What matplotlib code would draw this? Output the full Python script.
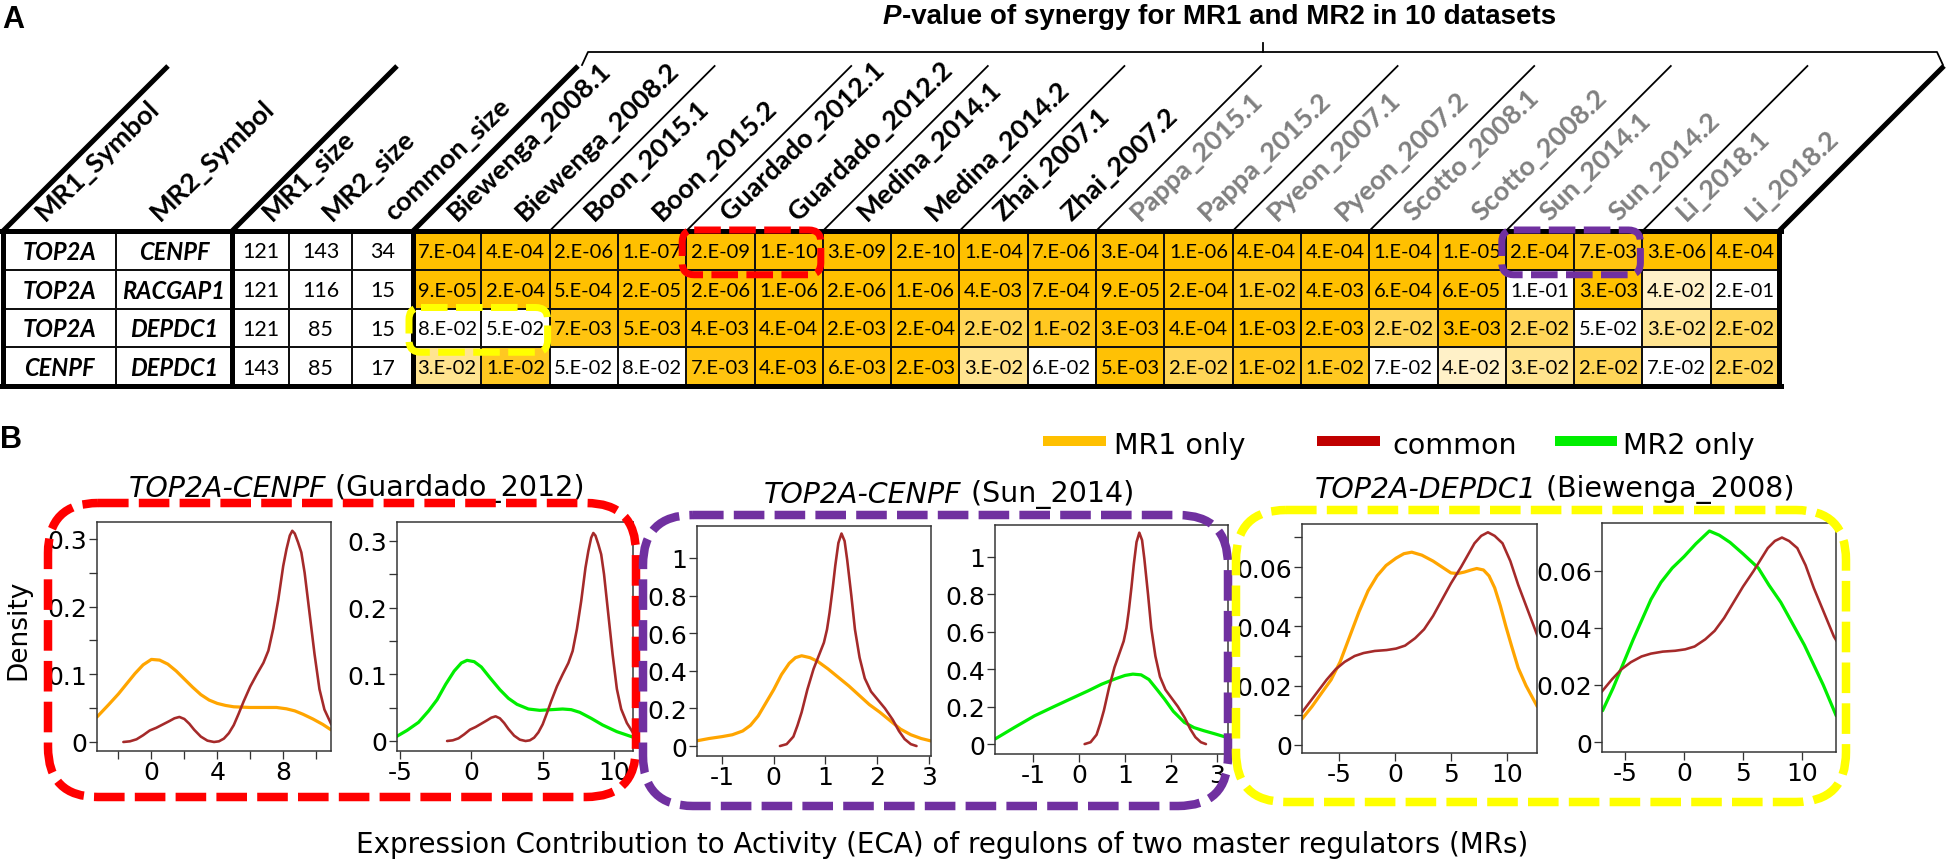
import matplotlib
matplotlib.use("Agg")
import matplotlib.pyplot as plt
from matplotlib.patches import Rectangle, FancyBboxPatch
from matplotlib.colors import LinearSegmentedColormap, Normalize

W, H = 1946, 862

# ---------------- panel A data ----------------
datasets = ["Biewenga_2008.1", "Biewenga_2008.2", "Boon_2015.1", "Boon_2015.2",
            "Guardado_2012.1", "Guardado_2012.2", "Medina_2014.1", "Medina_2014.2",
            "Zhai_2007.1", "Zhai_2007.2", "Pappa_2015.1", "Pappa_2015.2",
            "Pyeon_2007.1", "Pyeon_2007.2", "Scotto_2008.1", "Scotto_2008.2",
            "Sun_2014.1", "Sun_2014.2", "Li_2018.1", "Li_2018.2"]
info_headers = ["MR1_Symbol", "MR2_Symbol", "MR1_size", "MR2_size", "common_size"]
mr1_symbol = ["TOP2A", "TOP2A", "TOP2A", "CENPF"]
mr2_symbol = ["CENPF", "RACGAP1", "DEPDC1", "DEPDC1"]
mr1_size = [121, 121, 121, 143]
mr2_size = [143, 116, 85, 85]
common_size = [34, 15, 15, 17]
pvals = [
    ["7.E-04", "4.E-04", "2.E-06", "1.E-07", "2.E-09", "1.E-10", "3.E-09", "2.E-10", "1.E-04", "7.E-06",
     "3.E-04", "1.E-06", "4.E-04", "4.E-04", "1.E-04", "1.E-05", "2.E-04", "7.E-03", "3.E-06", "4.E-04"],
    ["9.E-05", "2.E-04", "5.E-04", "2.E-05", "2.E-06", "1.E-06", "2.E-06", "1.E-06", "4.E-03", "7.E-04",
     "9.E-05", "2.E-04", "1.E-02", "4.E-03", "6.E-04", "6.E-05", "1.E-01", "3.E-03", "4.E-02", "2.E-01"],
    ["8.E-02", "5.E-02", "7.E-03", "5.E-03", "4.E-03", "4.E-04", "2.E-03", "2.E-04", "2.E-02", "1.E-02",
     "3.E-03", "4.E-04", "1.E-03", "2.E-03", "2.E-02", "3.E-03", "2.E-02", "5.E-02", "3.E-02", "2.E-02"],
    ["3.E-02", "1.E-02", "5.E-02", "8.E-02", "7.E-03", "4.E-03", "6.E-03", "2.E-03", "3.E-02", "6.E-02",
     "5.E-03", "2.E-02", "1.E-02", "1.E-02", "7.E-02", "4.E-02", "3.E-02", "2.E-02", "7.E-02", "2.E-02"],
]
title_a = "-value of synergy for MR1 and MR2 in 10 datasets"

# ---------------- panel B data (density curves) ----------------
legend_labels = ["MR1 only", "common", "MR2 only"]

guard_mr1_x = [-3.3, -2.6, -2.0, -1.5, -1.0, -0.5, 0.0, 0.5, 1.0, 1.5, 2.0, 2.5, 3.0, 3.5, 4.0, 4.5,
               5.0, 6.0, 7.0, 7.6, 8.2, 8.7, 9.2, 9.8, 10.4, 10.9]
guard_mr1_y = [0.037, 0.055, 0.071, 0.086, 0.101, 0.114, 0.122, 0.121, 0.115, 0.105, 0.093, 0.081,
               0.070, 0.062, 0.057, 0.054, 0.052, 0.051, 0.051, 0.051, 0.049, 0.046, 0.041, 0.034, 0.026, 0.018]
guard_common_x = [-1.7, -1.3, -0.9, -0.5, -0.1, 0.3, 0.7, 1.1, 1.4, 1.7, 2.0, 2.3, 2.6, 3.0, 3.4, 3.8,
                  4.1, 4.4, 4.7, 5.0, 5.3, 5.6, 6.0, 6.4, 6.8, 7.1, 7.4, 7.7, 8.0, 8.2, 8.4, 8.55, 8.7,
                  8.9, 9.1, 9.3, 9.5, 9.7, 9.9, 10.2, 10.5, 10.9, 11.4]
guard_common_y = [0.0, 0.001, 0.004, 0.010, 0.017, 0.021, 0.026, 0.031, 0.035, 0.037, 0.034, 0.027,
                  0.018, 0.008, 0.002, 0.0, 0.001, 0.005, 0.013, 0.025, 0.042, 0.060, 0.082, 0.100,
                  0.117, 0.135, 0.168, 0.210, 0.260, 0.285, 0.305, 0.312, 0.308, 0.295, 0.280, 0.250,
                  0.210, 0.170, 0.130, 0.078, 0.048, 0.027, 0.010]
guard_mr2_x = [-5.3, -4.5, -3.7, -3.0, -2.4, -1.8, -1.2, -0.7, -0.3, 0.2, 0.7, 1.3, 2.0, 2.6, 3.2,
               4.0, 4.8, 5.6, 6.4, 7.0, 7.6, 8.4, 9.2, 10.2, 11.3]
guard_mr2_y = [0.006, 0.016, 0.028, 0.045, 0.062, 0.085, 0.105, 0.117, 0.121, 0.119, 0.111, 0.095,
               0.077, 0.064, 0.055, 0.048, 0.046, 0.047, 0.048, 0.047, 0.043, 0.034, 0.024, 0.014, 0.006]

sun_mr1_x = [-1.5, -1.25, -1.0, -0.8, -0.6, -0.45, -0.3, -0.15, 0.0, 0.15, 0.3, 0.42, 0.54, 0.7,
             0.85, 1.05, 1.25, 1.45, 1.65, 1.85, 2.05, 2.25, 2.45, 2.65, 2.85, 3.04]
sun_mr1_y = [0.027, 0.04, 0.05, 0.06, 0.08, 0.11, 0.16, 0.23, 0.30, 0.38, 0.44, 0.47, 0.48, 0.47,
             0.45, 0.41, 0.365, 0.32, 0.27, 0.22, 0.18, 0.135, 0.09, 0.06, 0.04, 0.027]
sun_common_x = [0.12, 0.25, 0.38, 0.46, 0.54, 0.65, 0.77, 0.87, 0.97, 1.03, 1.08, 1.14, 1.19, 1.25,
                1.31, 1.37, 1.42, 1.5, 1.57, 1.66, 1.76, 1.88, 2.0, 2.15, 2.3, 2.42, 2.53, 2.65, 2.76]
sun_common_y = [0.0, 0.01, 0.05, 0.11, 0.18, 0.30, 0.41, 0.48, 0.55, 0.62, 0.71, 0.84, 0.96, 1.08,
                1.13, 1.09, 0.99, 0.80, 0.62, 0.47, 0.36, 0.29, 0.25, 0.20, 0.14, 0.08, 0.037, 0.01, 0.0]
sun_mr2_x = [-1.83, -1.4, -0.97, -0.55, -0.11, 0.2, 0.49, 0.8, 1.0, 1.17, 1.35, 1.52, 1.7, 1.86,
             2.05, 2.29, 2.5, 2.72, 2.95, 3.21]
sun_mr2_y = [0.027, 0.09, 0.151, 0.2, 0.25, 0.285, 0.32, 0.35, 0.367, 0.374, 0.37, 0.345, 0.29,
             0.24, 0.175, 0.116, 0.088, 0.071, 0.055, 0.036]

biew_mr1_x = [-8.3, -7.4, -6.5, -5.7, -4.9, -4.0, -3.2, -2.4, -1.6, -0.8, 0.1, 0.8, 1.5, 2.4, 3.4,
              4.2, 5.0, 5.6, 6.2, 6.8, 7.3, 7.9, 8.4, 8.9, 9.4, 9.9, 10.4, 11.0, 11.7, 12.7]
biew_mr1_y = [0.0088, 0.013, 0.0178, 0.022, 0.028, 0.037, 0.045, 0.052, 0.057, 0.0605, 0.063, 0.0645,
              0.065, 0.064, 0.062, 0.060, 0.058, 0.0578, 0.0583, 0.059, 0.0595, 0.059, 0.057, 0.053,
              0.047, 0.040, 0.0335, 0.026, 0.020, 0.013]
biew_common_x = [-8.3, -7.2, -6.1, -5.3, -4.5, -3.6, -2.8, -1.8, -0.75, 0.1, 0.9, 1.8, 2.6, 3.4, 4.2,
                 5.0, 5.9, 6.5, 7.1, 7.7, 8.3, 8.9, 9.6, 10.3, 11.0, 11.8, 12.7, 13.0]
biew_common_y = [0.011, 0.0165, 0.022, 0.0255, 0.028, 0.030, 0.031, 0.0317, 0.032, 0.0325, 0.0335,
                 0.036, 0.039, 0.0435, 0.049, 0.0545, 0.060, 0.064, 0.068, 0.0705, 0.0717, 0.0705,
                 0.068, 0.062, 0.054, 0.046, 0.037, 0.035]
biew_mr2_x = [-6.9, -6.0, -5.1, -4.3, -3.55, -2.8, -1.95, -1.0, 0.0, 1.0, 2.15, 3.0, 3.9, 5.0, 6.3,
              7.2, 8.2, 9.2, 10.2, 11.0, 11.8, 12.9]
biew_mr2_y = [0.011, 0.019, 0.028, 0.036, 0.043, 0.050, 0.056, 0.061, 0.065, 0.0695, 0.074, 0.0725,
              0.070, 0.066, 0.061, 0.055, 0.049, 0.0415, 0.034, 0.027, 0.020, 0.0092]

pair_genes = ["TOP2A-CENPF", "TOP2A-CENPF", "TOP2A-DEPDC1"]
pair_studies = [" (Guardado_2012)", " (Sun_2014)", " (Biewenga_2008)"]

xticks_guard1 = [-2, 0, 2, 4, 6, 8, 10]
xlabels_guard1 = ["", "0", "", "4", "", "8", ""]
yticks_guard = [0, 0.05, 0.1, 0.15, 0.2, 0.25, 0.3]
ylabels_guard = ["0", "", "0.1", "", "0.2", "", "0.3"]
xticks_5 = [-5, 0, 5, 10]
xticks_sun = [-1, 0, 1, 2, 3]
yticks_sun = [0, 0.2, 0.4, 0.6, 0.8, 1]
ylabels_sun = ["0", "0.2", "0.4", "0.6", "0.8", "1"]
yticks_biew1 = [0, 0.01, 0.02, 0.03, 0.04, 0.05, 0.06, 0.07]
ylabels_biew1 = ["0", "", "0.02", "", "0.04", "", "0.06", ""]
yticks_biew2 = [0, 0.02, 0.04, 0.06]
ylabels_biew2 = ["0", "0.02", "0.04", "0.06"]

C_MR1, C_COMMON, C_MR2 = "#FFA500", "#A52A2A", "#00EE00"
LEG_COLORS = ["#FFC000", "#C00000", "#00EE00"]


def pt(pixels):
    return pixels * 0.72


fig = plt.figure(figsize=(W / 100, H / 100), dpi=100)
ax = fig.add_axes([0, 0, 1, 1])
ax.set_xlim(0, W)
ax.set_ylim(H, 0)
ax.axis("off")

TFONT = "Lato"

# ---------------- table ----------------
info_edges = [3, 116, 232, 289, 352, 413]
cw = (1779 - 413) / len(datasets)
ds_edges = [413 + i * cw for i in range(len(datasets) + 1)]
edges = info_edges + ds_edges[1:]
y_top, rh = 232, (387 - 232) / 4
n_rows = len(mr1_symbol)

cmap = LinearSegmentedColormap.from_list("pv", ["#FFC000", "#FFFFFF"])
norm = Normalize(0.004, 0.05, clip=True)

for r in range(n_rows):
    yc = y_top + rh * (r + 0.5)
    row_txt = [mr1_symbol[r], mr2_symbol[r], str(mr1_size[r]), str(mr2_size[r]), str(common_size[r])]
    for c, s in enumerate(row_txt):
        xc = (edges[c] + edges[c + 1]) / 2
        if c < 2:
            ax.text(xc, yc + 1, s, ha="center", va="center", fontsize=17, family=TFONT,
                    weight="bold", style="italic")
        else:
            ax.text(xc, yc + 1, s, ha="center", va="center", fontsize=15.5, family=TFONT)
    for j, s in enumerate(pvals[r]):
        v = float(s.replace(".E", "E"))
        ax.add_patch(Rectangle((ds_edges[j], y_top + rh * r), cw, rh,
                               facecolor=cmap(norm(v)), edgecolor="none", zorder=1))
        ax.text((ds_edges[j] + ds_edges[j + 1]) / 2, yc + 1, s, ha="center", va="center",
                fontsize=14.5, family=TFONT, zorder=3)

# grid lines
for x in edges:
    ax.plot([x, x], [y_top, y_top + 4 * rh], color="#111111", lw=pt(2), zorder=2)
for r in range(1, n_rows):
    ax.plot([3, 1779], [y_top + r * rh] * 2, color="#111111", lw=pt(2), zorder=2)
for x in [3, 232, 413, 1779]:
    ax.plot([x, x], [y_top, y_top + 4 * rh], color="black", lw=pt(5), zorder=4)
for y in [y_top, y_top + 4 * rh]:
    ax.plot([1, 1781], [y, y], color="black", lw=pt(5), zorder=4)

# slanted header
dx, y_head = 165, 67
for x in [3, 232, 413, 1779]:
    ax.plot([x, x + dx], [y_top, y_head], color="black", lw=pt(5), solid_capstyle="butt")
for k in range(2, len(datasets), 2):
    x = ds_edges[k]
    ax.plot([x, x + dx], [y_top, y_head], color="black", lw=pt(1.8))

for c, lab in enumerate(info_headers):
    w = info_edges[c + 1] - info_edges[c]
    x0 = info_edges[c] + w / 2 + (12 if w < 80 else -14)
    ax.text(x0, 222, lab, rotation=44, rotation_mode="anchor", ha="left", va="baseline",
            fontsize=19.5, family=TFONT, weight="bold")
for j, lab in enumerate(datasets):
    x0 = ds_edges[j] + cw / 2 + 10
    ax.text(x0, 222, lab, rotation=44, rotation_mode="anchor", ha="left", va="baseline",
            fontsize=19.5, family=TFONT, weight="bold", color="black" if j < 10 else "#808080")

# bracket + title
bx0, bx1 = 413 + dx + 6, 1779 + dx - 2
bxm = (bx0 + bx1) / 2
ax.plot([bx0 - 2, bx0 + 4, bx1 - 5, bx1 + 1], [66, 53, 53, 66], color="black", lw=pt(1.8))
ax.plot([bxm, bxm], [53, 44], color="black", lw=pt(1.8))
tp = ax.text(883, 24, "P", ha="left", va="baseline", fontsize=20, family="Liberation Sans",
             weight="bold", style="italic")
ax.annotate(title_a, xy=(1, 0), xycoords=tp, ha="left", va="bottom", fontsize=20,
            family="Liberation Sans", weight="bold")

ax.text(2, 28, "A", fontsize=22, family="Liberation Sans", weight="bold", va="baseline")
ax.text(0, 448, "B", fontsize=22, family="Liberation Sans", weight="bold", va="baseline")


def dashed_box(a, l, t, r, b, color, lw_px, rnd, dash=(3.6, 1.2)):
    a.add_patch(FancyBboxPatch((l, t), r - l, b - t, boxstyle=f"round,pad=0,rounding_size={rnd}",
                               fill=False, edgecolor=color, lw=pt(lw_px),
                               linestyle=(0, dash), zorder=20))


# highlight boxes in table
for (row, c0, color) in [(0, 4, "#FF0000"), (0, 16, "#7030A0"), (2, 0, "#FFFF00")]:
    dashed_box(ax, ds_edges[c0] - 4, y_top + row * rh - 1, ds_edges[c0 + 2] - 2,
               y_top + (row + 1) * rh + 5, color, 7, 12, dash=(3.8, 1.2))

# ---------------- panel B plots ----------------
BF = "DejaVu Sans"
plots = [
    dict(box=(97, 523, 331, 752), xlim=(-3.3, 10.9), ylim=(-0.0133, 0.325),
         curves=[(guard_mr1_x, guard_mr1_y, C_MR1, 3.2), (guard_common_x, guard_common_y, C_COMMON, 2.6)],
         xt=xticks_guard1, xl=xlabels_guard1, yt=yticks_guard, yl=ylabels_guard),
    dict(box=(397, 523, 633, 752), xlim=(-5.21, 11.33), ylim=(-0.015, 0.3285),
         curves=[(guard_mr2_x, guard_mr2_y, C_MR2, 3.2), (guard_common_x, guard_common_y, C_COMMON, 2.6)],
         xt=xticks_5, xl=[str(v) for v in xticks_5], yt=yticks_guard, yl=ylabels_guard),
    dict(box=(697, 527, 931, 757), xlim=(-1.483, 3.04), ylim=(-0.053, 1.17),
         curves=[(sun_mr1_x, sun_mr1_y, C_MR1, 3.2), (sun_common_x, sun_common_y, C_COMMON, 2.6)],
         xt=xticks_sun, xl=[str(v) for v in xticks_sun], yt=yticks_sun, yl=ylabels_sun),
    dict(box=(995, 526, 1228, 755), xlim=(-1.83, 3.24), ylim=(-0.053, 1.171),
         curves=[(sun_mr2_x, sun_mr2_y, C_MR2, 3.2), (sun_common_x, sun_common_y, C_COMMON, 2.6)],
         xt=xticks_sun, xl=[str(v) for v in xticks_sun], yt=yticks_sun, yl=ylabels_sun),
    dict(box=(1302, 525, 1537, 754), xlim=(-8.3, 12.68), ylim=(-0.0027, 0.0745),
         curves=[(biew_mr1_x, biew_mr1_y, C_MR1, 3.2), (biew_common_x, biew_common_y, C_COMMON, 2.6)],
         xt=xticks_5, xl=[str(v) for v in xticks_5], yt=yticks_biew1, yl=ylabels_biew1),
    dict(box=(1602, 524, 1836, 753), xlim=(-6.95, 12.88), ylim=(-0.0035, 0.0768),
         curves=[(biew_mr2_x, biew_mr2_y, C_MR2, 3.2), (biew_common_x, biew_common_y, C_COMMON, 2.6)],
         xt=xticks_5, xl=[str(v) for v in xticks_5], yt=yticks_biew2, yl=ylabels_biew2),
]

for p in plots:
    l, t, r, b = p["box"]
    pa = fig.add_axes([l / W, 1 - b / H, (r - l) / W, (b - t) / H])
    for xs, ys, col, lw in p["curves"]:
        pa.plot(xs, ys, color=col, lw=pt(lw), solid_capstyle="round", solid_joinstyle="round")
    pa.set_xlim(*p["xlim"])
    pa.set_ylim(*p["ylim"])
    pa.set_xticks(p["xt"])
    pa.set_xticklabels(p["xl"])
    pa.set_yticks(p["yt"])
    pa.set_yticklabels(p["yl"])
    pa.tick_params(labelsize=18, length=pt(8), width=pt(1.3), pad=1, color="#333333")
    for lab in pa.get_xticklabels() + pa.get_yticklabels():
        lab.set_family(BF)
    for s in pa.spines.values():
        s.set_linewidth(pt(1.5))
        s.set_color("#333333")

# titles above each pair
for gx, gy, gene, study in zip([129, 764, 1315], [497, 503, 498], pair_genes, pair_studies):
    tg = ax.text(gx, gy, gene, ha="left", va="baseline", fontsize=20.5, family=BF, style="italic")
    ax.annotate(study, xy=(1, 0), xycoords=tg, ha="left", va="bottom", fontsize=20.5, family=BF)

ax.text(18, 630, "Density", rotation=90, ha="center", va="center", fontsize=19, family=BF)
ax.text(942, 845, "Expression Contribution to Activity (ECA) of regulons of two master regulators (MRs)",
        ha="center", va="center", fontsize=20, family=BF)

# legend
for (x0, x1, tx), lab, col in zip([(1043, 1106, 1114), (1317, 1380, 1392), (1555, 1617, 1623)],
                                  legend_labels, LEG_COLORS):
    ax.plot([x0, x1], [442, 442], color=col, lw=pt(10), solid_capstyle="butt")
    ax.text(tx, 454, lab, ha="left", va="baseline", fontsize=20.5, family=BF)

# dashed rounded frames in panel B (drawn on top)
ov = fig.add_axes([0, 0, 1, 1], zorder=10)
ov.set_xlim(0, W)
ov.set_ylim(H, 0)
ov.axis("off")
ov.patch.set_alpha(0)
dashed_box(ov, 48, 504, 636, 798, "#FF0000", 8.5, 50)
dashed_box(ov, 643, 516, 1228, 807, "#7030A0", 8.5, 50)
dashed_box(ov, 1236, 511, 1846, 803, "#FFFF00", 8.5, 50)

fig.savefig("out.png", dpi=100)
